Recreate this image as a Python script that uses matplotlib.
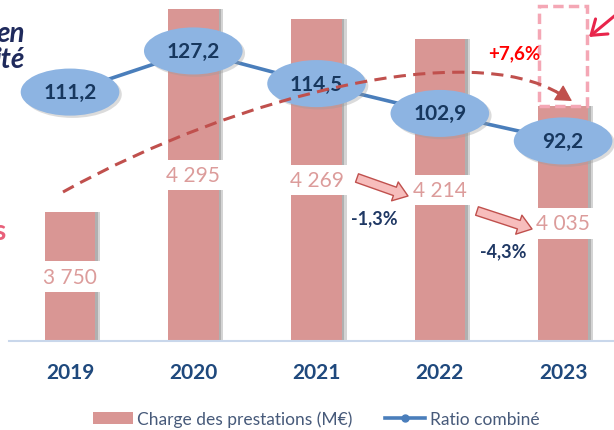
import numpy as np
import matplotlib.pyplot as plt
from matplotlib.patches import Ellipse, FancyArrowPatch, PathPatch, Rectangle
from matplotlib.path import Path
from matplotlib.lines import Line2D

plt.rcParams['font.family'] = ['Lato', 'DejaVu Sans']

years = ['2019', '2020', '2021', '2022', '2023']
charges = [3750, 4295, 4269, 4214, 4035]          # Charge des prestations (M€)
ratio = [111.2, 127.2, 114.5, 102.9, 92.2]        # Ratio combiné
variations = ['-1,3%', '-4,3%', '+7,6%']          # 2021->2022, 2022->2023, 2019->2023
ghost_top = 4303                                  # dashed box above 2023

W, H = 614, 431


def px(x, y):
    # pixel position on the slide -> figure fraction
    return (x / W, 1 - y / H)


def fr(v):
    return f"{v:.1f}".replace('.', ',')


def thousands(v):
    return f"{v:,}".replace(',', ' ')


fig = plt.figure(figsize=(W / 100, H / 100), dpi=100)
ax = fig.add_axes([9 / W, 89 / H, 605 / W, 342 / H])
x = np.arange(len(years))
y0 = 3404
ax.set_xlim(-0.495, 4.413)
ax.set_ylim(y0, 4322)

# bars with a soft shadow on the right
ax.bar(x + 0.04, charges, width=0.41, color='#d4d4d4', zorder=1)
ax.bar(x + 0.02, charges, width=0.41, color='#b0b0b0', zorder=1)
ax.bar(x, charges, width=0.41, color='#D99694', zorder=2)
ax.bar(x[-1], ghost_top - charges[-1], bottom=charges[-1], width=0.39,
       fill=False, edgecolor='#F4A7B5', linewidth=2.5, linestyle=(0, (3, 1.5)), zorder=2)

for xi, v in zip(x, charges):
    ax.text(xi, (y0 + v) / 2, thousands(v), ha='center', va='center',
            fontsize=15, color='#DC9C9B', zorder=3,
            bbox=dict(boxstyle='square,pad=0.25', fc='white', ec='none'))

for s in ['top', 'left', 'right']:
    ax.spines[s].set_visible(False)
ax.spines['bottom'].set_color('#C9D7EB')
ax.spines['bottom'].set_linewidth(1.5)
ax.set_yticks([])
ax.set_xticks(x, years)
ax.tick_params(axis='x', length=0, pad=15, labelsize=15, labelcolor='#1F497D')
for lab in ax.get_xticklabels():
    lab.set_fontweight('bold')

# ratio line with ellipse labels
ax2 = ax.twinx()
ax2.set_ylim(14.4, 147.4)
ax2.axis('off')
ax2.plot(x, ratio, color='#4A7EBB', lw=2.6, marker='o', ms=5, zorder=2)
for xi, r in zip(x, ratio):
    ax2.add_patch(Ellipse((xi + 0.02, r - 0.9), 0.80, 18.3, fc='#9a9a9a', ec='none', alpha=0.35, zorder=3))
    ax2.add_patch(Ellipse((xi, r), 0.80, 18.3, fc='#8DB4E2', ec='none', zorder=4))
    ax2.text(xi, r, fr(r), ha='center', va='center', fontsize=15,
             fontweight='bold', color='#17375E', zorder=5)

# dashed trend arc 2019 -> 2023
arc = Path([px(63, 193), px(240, 95), px(470, 40), px(560, 95)],
           [Path.MOVETO, Path.CURVE4, Path.CURVE4, Path.CURVE4])
fig.add_artist(PathPatch(arc, transform=fig.transFigure, fill=False,
                         ec='#C0504D', lw=2.2, ls=(0, (4, 2.4))))
fig.add_artist(FancyArrowPatch(px(556, 92), px(572, 102), transform=fig.transFigure,
                               arrowstyle='-|>,head_length=0.5,head_width=0.28',
                               mutation_scale=20, color='#C0504D', lw=1,
                               shrinkA=0, shrinkB=0))

# block arrows between labels
for a, b in [((357, 179), (408, 197)), ((477, 212), (532, 230))]:
    fig.add_artist(FancyArrowPatch(px(*a), px(*b), transform=fig.transFigure,
                                   arrowstyle='simple,head_length=0.5,head_width=0.72,tail_width=0.32',
                                   mutation_scale=20, fc='#F7BDBC', ec='#C0504D', lw=1,
                                   shrinkA=0, shrinkB=0))

# red pointer top right
fig.add_artist(FancyArrowPatch(px(618, 14), px(589, 38), transform=fig.transFigure,
                               arrowstyle='->,head_length=0.5,head_width=0.35',
                               mutation_scale=20, color='#E8254B', lw=2.2,
                               shrinkA=0, shrinkB=0))

# variation labels
fig.text(*px(374, 219), variations[0], ha='center', va='center',
         fontsize=13, fontweight='bold', color='#1F3864')
fig.text(*px(503, 252), variations[1], ha='center', va='center',
         fontsize=13, fontweight='bold', color='#1F3864')
fig.text(*px(514, 54), variations[2], ha='center', va='center',
         fontsize=13.5, fontweight='bold', color='#FF0000')

# slide text cut by the left edge
fig.text(*px(25, 42), 'en', ha='right', va='baseline', fontsize=20, fontweight='bold',
         style='italic', color='#1F2A5C')
fig.text(*px(25, 68), 'ité', ha='right', va='baseline', fontsize=20, fontweight='bold',
         style='italic', color='#1F2A5C')
fig.text(*px(6, 240), 's', ha='right', va='baseline', fontsize=20, fontweight='bold',
         color='#E8607A')

handles = [Rectangle((0, 0), 1, 1, fc='#D99694'),
           Line2D([], [], color='#4A7EBB', lw=2.6, marker='o', ms=5)]
fig.legend(handles, ['Charge des prestations (M€)', 'Ratio combiné'], loc='center',
           bbox_to_anchor=px(316, 420), ncol=2, frameon=False, fontsize=12.5,
           handlelength=2.3, handletextpad=0.25, columnspacing=1.9, labelcolor='#475A7A')

fig.savefig('out.png', dpi=100)
